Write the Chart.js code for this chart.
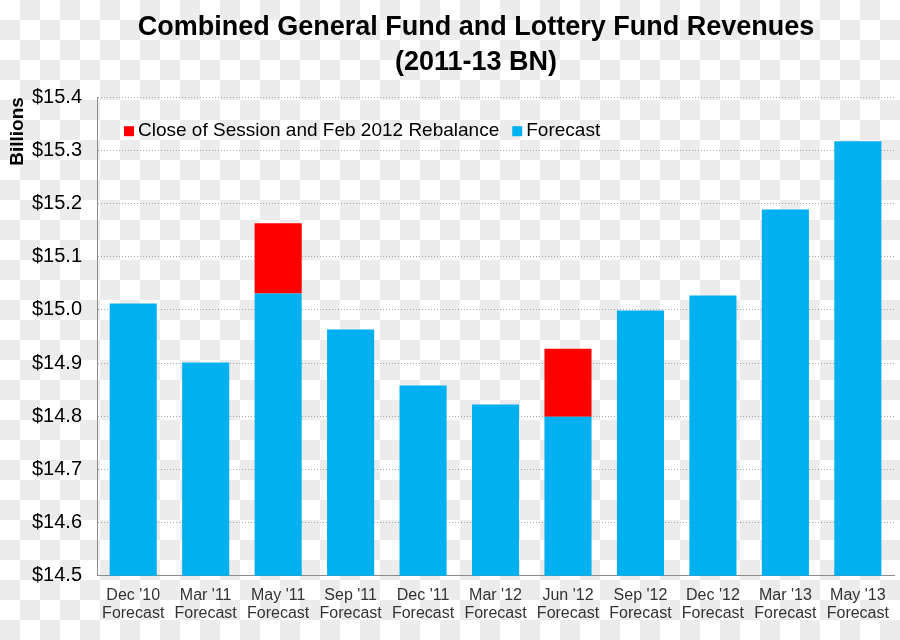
<!DOCTYPE html>
<html>
<head>
<meta charset="utf-8">
<script src="https://cdn.jsdelivr.net/npm/chart.js@4/dist/chart.umd.min.js"></script>
<style>
  html, body { margin: 0; padding: 0; }
  body {
    width: 900px; height: 640px;
    background: repeating-conic-gradient(#ececec 0 25%, #ffffff 0 50%) 0 0 / 40px 40px;
  }
  #wrap { position: relative; width: 900px; height: 640px; }
</style>
</head>
<body>
<div id="wrap"><canvas id="chartRevenue"></canvas></div>
<script>
  'use strict';

  var categories = [
    ["Dec '10", 'Forecast'], ["Mar '11", 'Forecast'], ["May '11", 'Forecast'],
    ["Sep '11", 'Forecast'], ["Dec '11", 'Forecast'], ["Mar '12", 'Forecast'],
    ["Jun '12", 'Forecast'], ["Sep '12", 'Forecast'], ["Dec '12", 'Forecast'],
    ["Mar '13", 'Forecast'], ["May '13", 'Forecast']
  ];
  var forecast = [15.012, 14.901, 15.031, 14.963, 14.858, 14.822, 14.799, 14.999, 15.027, 15.189, 15.317];
  var rebalance = [null, null, 0.132, null, null, null, 0.128, null, null, null, null];
  var yTicks = [14.5, 14.6, 14.7, 14.8, 14.9, 15.0, 15.1, 15.2, 15.3, 15.4];

  var FONT = "'Liberation Sans', Arial, sans-serif";

  /* centra o titulo um pouco a direita, como no original */
  var shiftTitle = {
    id: 'shiftTitle',
    afterLayout: function (chart) {
      var t = chart.titleBlock;
      if (t) { t.left = 52; t.right = 900; }
    }
  };

  /* legenda dentro da area do grafico (vermelho primeiro) */
  var innerLegend = {
    id: 'innerLegend',
    afterDraw: function (chart) {
      var c = chart.ctx, area = chart.chartArea;
      var order = [1, 0];
      var x = area.left + 27, y = area.top + 34;
      c.save();
      c.font = '19px ' + FONT;
      c.textBaseline = 'middle';
      c.textAlign = 'left';
      order.forEach(function (i) {
        var ds = chart.data.datasets[i];
        c.fillStyle = ds.backgroundColor;
        c.fillRect(x, y - 5, 10, 10);
        x += 14;
        c.fillStyle = '#000';
        c.fillText(ds.label, x, y);
        x += c.measureText(ds.label).width + 13;
      });
      c.restore();
    }
  };

  var ctx = document.getElementById('chartRevenue');
  new Chart(ctx, {
    type: 'bar',
    data: {
      labels: categories,
      datasets: [{
        label: 'Forecast',
        data: forecast,
        backgroundColor: '#00B0F0',
        borderWidth: 0,
        barPercentage: 0.65,
        categoryPercentage: 1
      }, {
        label: 'Close of Session and Feb 2012 Rebalance',
        data: rebalance,
        backgroundColor: '#FF0000',
        borderWidth: 0,
        barPercentage: 0.65,
        categoryPercentage: 1
      }]
    },
    options: {
      responsive: true,
      maintainAspectRatio: false,
      animation: false,
      layout: { padding: { left: 6, right: 1, top: 0, bottom: 7 } },
      plugins: {
        title: {
          display: true,
          text: ['Combined General Fund and Lottery Fund Revenues', '(2011-13 BN)'],
          color: '#000',
          font: { family: FONT, size: 27, weight: 'bold', lineHeight: 1.3 },
          padding: { top: 10, bottom: 17 }
        },
        legend: { display: false },
        tooltip: { enabled: false }
      },
      scales: {
        x: {
          stacked: true,
          grid: { display: false, drawTicks: false },
          border: { display: true, color: '#8c8c8c', width: 1 },
          ticks: {
            color: '#333',
            font: { family: FONT, size: 16, lineHeight: 1.1 },
            padding: 11,
            maxRotation: 0,
            autoSkip: false
          }
        },
        y: {
          stacked: true,
          min: 14.5,
          max: 15.4,
          afterBuildTicks: function (axis) {
            axis.ticks = yTicks.map(function (v) { return { value: v }; });
          },
          afterFit: function (axis) { axis.width = 91; },
          grid: { color: '#a6a6a6', drawTicks: false, lineWidth: 1 },
          border: { display: true, color: '#8c8c8c', width: 1, dash: [1, 2] },
          ticks: {
            color: '#000',
            font: { family: FONT, size: 20 },
            padding: 15,
            callback: function (v) { return '$' + Number(v).toFixed(1); }
          },
          title: {
            display: true,
            text: 'Billions',
            align: 'end',
            color: '#000',
            font: { family: FONT, size: 19, weight: 'bold', lineHeight: 1 },
            padding: { top: 2, bottom: 6 }
          }
        }
      }
    },
    plugins: [shiftTitle, innerLegend]
  });
</script>
</body>
</html>
